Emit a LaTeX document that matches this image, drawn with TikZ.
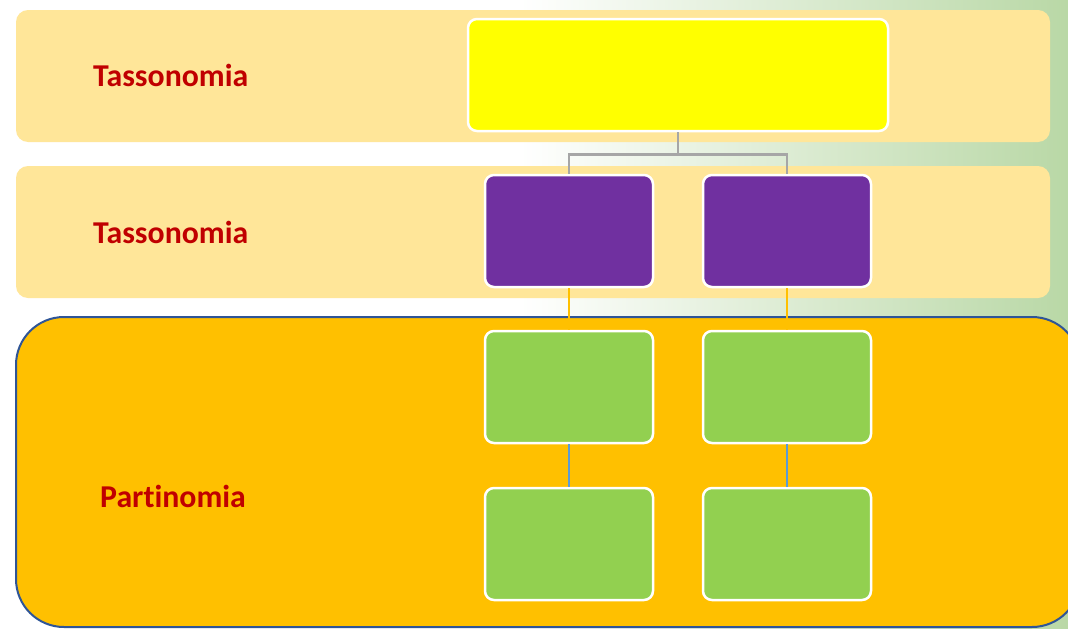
\documentclass[tikz,border=0pt]{standalone}
\usepackage{fontspec}
\setmainfont[Ligatures=NoCommon]{Carlito}
\definecolor{band}{HTML}{FFE699}
\definecolor{orng}{HTML}{FFC000}
\definecolor{bord}{HTML}{2F5597}
\definecolor{ylw}{HTML}{FFFF00}
\definecolor{purp}{HTML}{7030A0}
\definecolor{grn}{HTML}{92D050}
\definecolor{gry}{HTML}{A6A6A6}
\definecolor{blu}{HTML}{5B9BD5}
\definecolor{lbl}{HTML}{C00000}
\definecolor{bgg}{HTML}{B9D8A6}
\tikzset{
  x=1pt,y=-1pt,
  bandbox/.style={fill=band,draw=none,rounded corners=12},
  cbox/.style={draw=white,line width=2.5pt,rounded corners=9,minimum width=168,minimum height=112,inner sep=0pt},
  lab/.style={text=lbl,font=\fontsize{31.8}{38}\selectfont\bfseries,anchor=west,inner sep=0pt},
  conn/.style={line width=2.6pt}
}
\begin{document}
\begin{tikzpicture}
\useasboundingbox (0,0) rectangle (1068,629);
\begin{scope}
\clip (0,0) rectangle (1068,629);
\fill[white] (0,0) rectangle (1068,629);
\shade[left color=white,right color=bgg] (520,0) rectangle (1068,629);
\fill[bandbox] (16,10) rectangle (1050,142);
\fill[bandbox] (16,166) rectangle (1050,298);
\draw[fill=orng,draw=bord,line width=2pt,rounded corners=48] (16,317) rectangle (1080,627);
\node[cbox,fill=ylw,minimum width=420,minimum height=112] (top) at (678,75) {};
\node[cbox,fill=purp] (p1) at (569,231) {};
\node[cbox,fill=purp] (p2) at (787,231) {};
\node[cbox,fill=grn] (g1) at (569,387) {};
\node[cbox,fill=grn] (g2) at (787,387) {};
\node[cbox,fill=grn] (h1) at (569,544) {};
\node[cbox,fill=grn] (h2) at (787,544) {};
\draw[conn,gry] (top.south) -- ++(0,22) -| (p1.north);
\draw[conn,gry] (top.south) ++(0,22) -| (p2.north);
\draw[conn,orng] (p1.south) -- (g1.north);
\draw[conn,orng] (p2.south) -- (g2.north);
\draw[conn,blu] (g1.south) -- (h1.north);
\draw[conn,blu] (g2.south) -- (h2.north);
\node[lab] (t1) at (93,75) {Tassonomia};
\node[lab] (t2) at (93,232) {Tassonomia};
\node[lab] (t3) at (100,496) {Partinomia};
\end{scope}
\end{tikzpicture}
\end{document}
